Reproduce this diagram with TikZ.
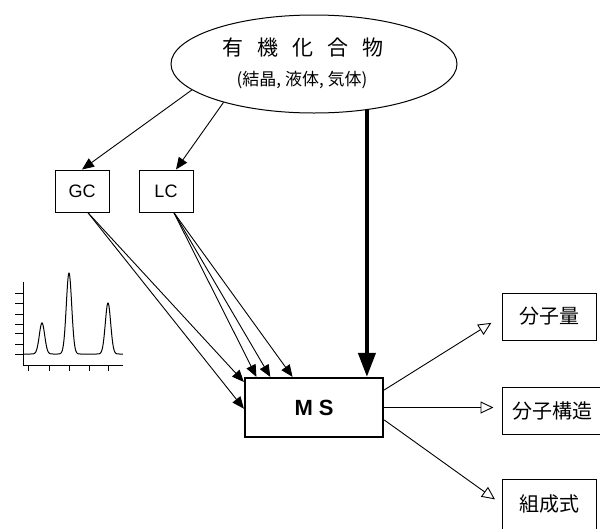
\documentclass[tikz,border=0pt]{standalone}
\usepackage{fontspec}
\setmainfont{Liberation Sans}
\newfontfamily\jp{Noto Sans CJK JP}
\usetikzlibrary{arrows.meta,shapes.geometric}

\tikzset{
    box/.style={draw, line width=1pt, minimum width=54pt, minimum height=42pt, inner sep=0pt, font=\fontsize{18}{18}\selectfont},
    result/.style={draw, line width=1pt, minimum width=94pt, minimum height=47pt, inner sep=0pt, font=\jp\fontsize{20}{20}\selectfont},
    feed/.style={-{Triangle[length=12pt,width=10pt]}, line width=0.9pt},
    yield/.style={-{Triangle[open,length=13pt,width=12pt]}, line width=0.9pt, shorten >=8pt},
}

% chromatogram trace: three peaks on a flat baseline
\def\peaks{354-31*exp(-((\x-42)/3.8)^2)-81*exp(-((\x-69)/3.8)^2)-51*exp(-((\x-108)/3.8)^2)}

\begin{document}
\begin{tikzpicture}[x=1pt, y=-1pt]
    \useasboundingbox (0,0) rectangle (600,528);

    % sample
    \node[draw, ellipse, line width=1pt, minimum width=286pt, minimum height=98pt] (org) at (314,64) {};
    \node[font=\jp\fontsize{21}{21}\selectfont] (orgname) at (303,48)
        {有\hspace{14pt}機\hspace{14pt}化\hspace{14pt}合\hspace{14pt}物};
    \node[font=\jp\fontsize{17}{17}\selectfont] (state) at (302,80) {(結晶, 液体, 気体)};

    % separation and spectrometer
    \node[box] (gc) at (82,191) {GC};
    \node[box] (lc) at (166,191) {LC};
    \node[draw, line width=2.2pt, minimum width=138pt, minimum height=59pt, inner sep=0pt,
          font=\bfseries\fontsize{22}{22}\selectfont] (ms) at (314,407.5) {M\hspace{6pt}S};

    % results
    \node[result] (mass) at (549,316.5) {分子量};
    \node[result, minimum width=100pt] (struct) at (552,410.5) {分子構造};
    \node[result, minimum height=50pt] (formula) at (549,504) {組成式};

    % feeds
    \draw[feed] (org.192) -- (gc.north);
    \draw[feed] (org.203) -- (lc.65);
    \draw[-{Triangle[length=24pt,width=17pt]}, line width=4pt] (org.-41) -- (org.-41 |- ms.north);
    \draw[feed] (gc.-75) -- (ms.160);
    \draw[feed] (gc.-75) -- (ms.181);
    \draw[feed] (lc.-70) -- (ms.152);
    \draw[feed] (lc.-70) -- (ms.145);
    \draw[feed] (lc.-70) -- (ms.125);

    % outputs
    \draw[yield, shorten >=12pt] (ms.14) -- (mass.west);
    \draw[yield] (ms.east) -- (ms.east -| struct.west);
    \draw[yield] (ms.-10) -- (formula.west);

    % chromatogram
    \draw[line width=0.9pt] (23,282) -- (23,365) -- (123,365);
    \foreach \y in {293,303,314,324,333,344,354}
        \draw[line width=0.9pt] (15,\y) -- (23,\y);
    \foreach \x in {28,49,69,89,108}
        \draw[line width=0.9pt] (\x,365) -- (\x,371);
    \draw[line width=1pt] plot[domain=23:123, samples=300] (\x,{\peaks});
\end{tikzpicture}
\end{document}
